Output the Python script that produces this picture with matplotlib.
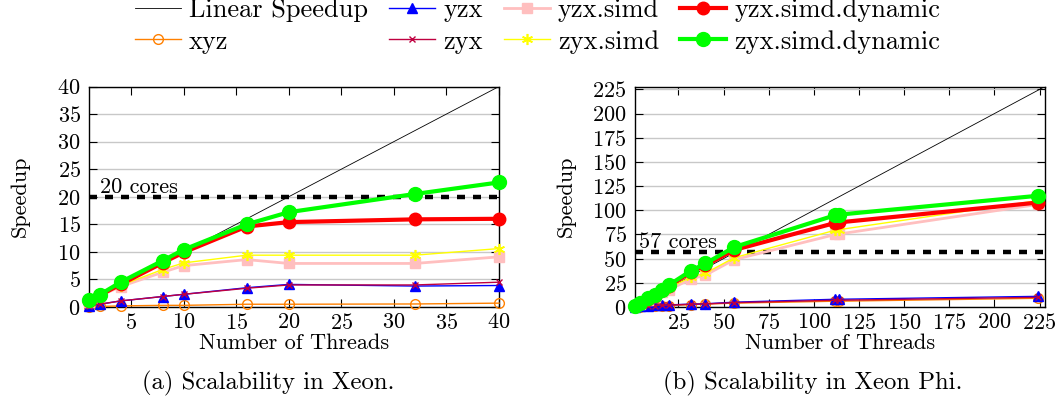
import matplotlib
matplotlib.use("Agg")
import matplotlib.pyplot as plt

plt.rcParams['font.family'] = ['cmr10', 'DejaVu Serif']
plt.rcParams['mathtext.fontset'] = 'cm'
plt.rcParams['axes.formatter.use_mathtext'] = True

# ---------------- data ----------------
series_names = ["xyz", "yzx", "zyx", "yzx.simd", "zyx.simd",
                "yzx.simd.dynamic", "zyx.simd.dynamic"]

threads_xeon = [1, 2, 4, 8, 10, 16, 20, 32, 40]
xeon_xyz = [0.05, 0.1, 0.2, 0.3, 0.3, 0.5, 0.5, 0.55, 0.7]
xeon_yzx = [0.15, 0.5, 1.1, 1.9, 2.3, 3.5, 4.1, 3.8, 3.9]
xeon_zyx = [0.2, 0.5, 1.1, 1.9, 2.3, 3.4, 4.0, 4.0, 4.5]
xeon_yzx_simd = [0.9, 2.0, 3.7, 6.3, 7.5, 8.6, 7.9, 7.9, 9.1]
xeon_zyx_simd = [1.0, 2.0, 3.9, 6.8, 8.0, 9.4, 9.4, 9.4, 10.6]
xeon_yzx_dyn = [1.0, 2.1, 4.1, 8.0, 9.9, 14.6, 15.4, 15.9, 16.0]
xeon_zyx_dyn = [1.2, 2.2, 4.5, 8.4, 10.4, 15.0, 17.2, 20.5, 22.6]

threads_phi = [1, 4, 8, 12, 16, 20, 32, 40, 56, 112, 114, 224]
phi_xyz = [0.1, 0.4, 0.8, 1.0, 1.3, 1.5, 2.5, 3.0, 4.0, 6.0, 6.0, 9.0]
phi_yzx = [0.2, 0.6, 1.2, 1.6, 2.0, 2.2, 3.0, 3.3, 5.0, 8.0, 8.0, 11.0]
phi_zyx = [0.2, 0.6, 1.1, 1.5, 1.8, 2.0, 2.8, 3.2, 4.5, 7.0, 7.0, 10.0]
phi_yzx_simd = [0.9, 3.5, 7.0, 10.5, 15.0, 18.0, 29.0, 33.0, 49.0, 75.0, 75.5, 106.0]
phi_zyx_simd = [1.0, 3.8, 7.5, 11.0, 16.0, 20.0, 31.0, 35.0, 51.0, 79.5, 80.0, 110.0]
phi_yzx_dyn = [1.0, 4.0, 8.5, 11.0, 17.5, 22.0, 36.0, 43.0, 59.0, 87.0, 87.5, 108.0]
phi_zyx_dyn = [1.0, 4.0, 9.0, 12.5, 18.0, 23.0, 37.5, 45.0, 62.0, 95.0, 95.5, 115.0]

xeon_cores = 20
phi_cores = 57

xeon_ticks_x = [5, 10, 15, 20, 25, 30, 35, 40]
xeon_ticks_y = [0, 5, 10, 15, 20, 25, 30, 35, 40]
phi_ticks_x = [25, 50, 75, 100, 125, 150, 175, 200, 225]
phi_ticks_y = [0, 25, 50, 75, 100, 125, 150, 175, 200, 225]

# ---------------- styles ----------------
styles = [
    dict(color=(1, 0.5, 0), marker='o', mfc='none', ms=7, lw=1.0, mew=1.0),
    dict(color='blue', marker='^', ms=7.5, lw=1.0),
    dict(color=(0.75, 0, 0.25), marker='x', ms=5, lw=1.0, mew=1.0),
    dict(color=(1, 0.75, 0.75), marker='s', ms=6.5, lw=2.0),
    dict(color=(1, 1, 0), marker=(6, 2, 0), ms=8, lw=1.0, mew=1.2),
    dict(color='red', marker='o', ms=9, lw=3.0),
    dict(color=(0, 1, 0), marker='o', ms=10, lw=3.0),
]

fig = plt.figure(figsize=(10.58, 4.07), dpi=100)
W, H = 1058, 407
ax1 = fig.add_axes([89 / W, 1 - 307 / H, (499 - 89) / W, (307 - 86.5) / H])
ax2 = fig.add_axes([635 / W, 1 - 307 / H, (1045 - 635) / W, (307 - 86.5) / H])

FS = 16
LFS = 19
CFS = 17.8


def draw(ax, xs, ys_list, cores, xlim, ylim, xt, yt, label_x, ylabelpad):
    ax.set_xlim(*xlim)
    ax.set_ylim(*ylim)
    ax.set_yticks(yt)
    ax.set_xticks(xt)
    ax.grid(axis='y', color='#c8c8c8', lw=1.0)
    ax.set_axisbelow(True)
    ax.axhline(cores, color='black', lw=3.2, ls=(0, (1.8, 1.8)), zorder=2)
    ax.text(label_x, cores, f"{cores} cores", fontsize=FS,
            ha='left', va='bottom', zorder=3)
    handles = []
    h, = ax.plot([xlim[0], xlim[1]], [xlim[0], xlim[1]], color='black', lw=0.6,
                 zorder=3, label='Linear Speedup')
    handles.append(h)
    for name, ys, st in zip(series_names, ys_list, styles):
        h, = ax.plot(xs, ys, label=name, zorder=4, clip_on=False, **st)
        handles.append(h)
    ax.tick_params(direction='in', top=True, right=True, length=6, width=0.8,
                   labelsize=FS)
    ax.tick_params(axis='x', pad=4)
    ax.tick_params(axis='y', pad=6)
    ax.set_xlabel("Number of Threads", fontsize=FS, labelpad=1)
    ax.set_ylabel("Speedup", fontsize=FS, labelpad=ylabelpad)
    for s in ax.spines.values():
        s.set_linewidth(1.0)
    return handles


handles = draw(ax1, threads_xeon,
               [xeon_xyz, xeon_yzx, xeon_zyx, xeon_yzx_simd, xeon_zyx_simd,
                xeon_yzx_dyn, xeon_zyx_dyn],
               xeon_cores, (1, 40), (0, 40), xeon_ticks_x, xeon_ticks_y, 2, 20)
draw(ax2, threads_phi,
     [phi_xyz, phi_yzx, phi_zyx, phi_yzx_simd, phi_zyx_simd,
      phi_yzx_dyn, phi_zyx_dyn],
     phi_cores, (1, 228), (0, 228), phi_ticks_x, phi_ticks_y, 3, 12)

fig.legend(handles=handles, loc='upper center', ncol=4, frameon=False,
           fontsize=LFS, bbox_to_anchor=(0.508, 1.03), handlelength=1.75,
           handletextpad=0.3, columnspacing=0.8, labelspacing=0.3,
           borderaxespad=0.0)

fig.text(268 / W, 1 - 383 / H, "(a) Scalability in Xeon.", fontsize=CFS,
         ha='center', va='center')
fig.text(813 / W, 1 - 383 / H, "(b) Scalability in Xeon Phi.", fontsize=CFS,
         ha='center', va='center')

fig.savefig("out.png", dpi=100)
